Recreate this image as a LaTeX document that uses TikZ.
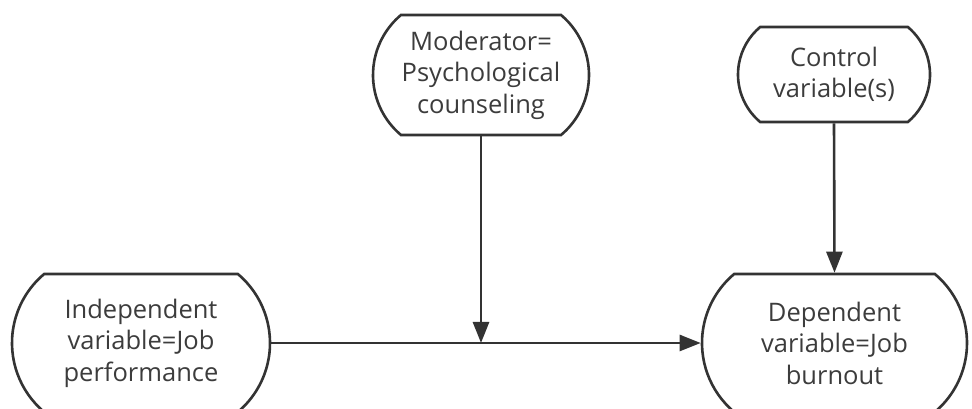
\documentclass[tikz,border=0pt]{standalone}
\usepackage{fontspec}
\setmainfont{Open Sans}
\usetikzlibrary{shapes.misc,arrows.meta}
\definecolor{linec}{HTML}{333333}
\definecolor{textc}{HTML}{3c3c3c}
\begin{document}
\begin{tikzpicture}[x=1pt,y=1pt,
  box/.style={rounded rectangle, rounded rectangle arc length=100, draw=linec, line width=2.6pt,
    inner sep=0pt, align=center, text=textc, font=\fontsize{25.5}{31.5}\selectfont},
  conn/.style={draw=linec, line width=2.6pt, -{Triangle[length=21pt,width=16pt]}}]
\clip (0,0) rectangle (972,409);
\fill[white] (0,0) rectangle (972,409);
\node[box, minimum width=258pt, minimum height=138pt] (ind) at (141,66) {Independent\\variable=Job\\performance};
\node[box, minimum width=265pt, minimum height=138pt] (dep) at (834.5,66) {Dependent\\variable=Job\\burnout};
\node[box, minimum width=216pt, minimum height=120pt] (mod) at (481,334) {Moderator=\\Psychological\\counseling};
\node[box, minimum width=192pt, minimum height=95pt] (ctl) at (834,334.5) {Control\\variable(s)};
\coordinate (j) at (mod.south |- ind.east);
\draw[conn] (ind.east) -- (dep.west);
\draw[conn] (mod.south) -- (j);
\draw[conn] (ctl.south) -- (dep.north);
\end{tikzpicture}
\end{document}
